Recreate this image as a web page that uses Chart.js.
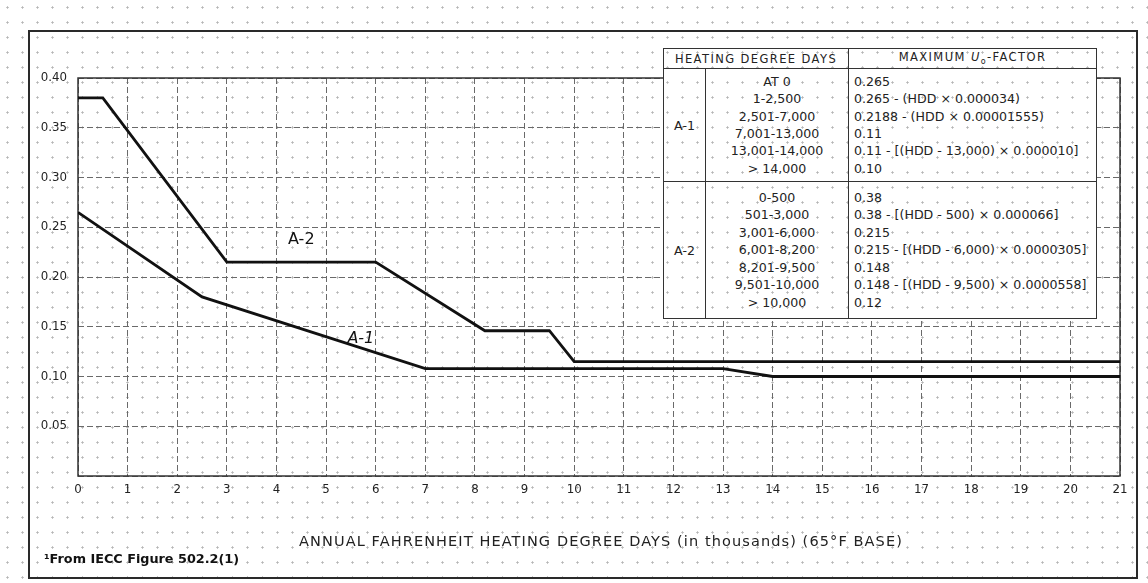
<!DOCTYPE html>
<html>
<head>
<meta charset="utf-8">
<script src="https://cdn.jsdelivr.net/npm/chart.js@4/dist/chart.umd.min.js"></script>
<style>
html, body { margin: 0; padding: 0; }
body {
    width: 1148px; height: 583px; position: relative; overflow: hidden;
    background-color: #fff;
    background-image: radial-gradient(circle, #b5b5b5 0.9px, transparent 1.3px);
    background-size: 15px 15px;
    font-family: "DejaVu Sans", sans-serif;
    color: #222;
}
#frame {
    position: absolute; left: 28px; top: 30px; width: 1110px; height: 549px;
    border: 2px solid #2a2a2a; box-sizing: border-box;
}
#chart { position: absolute; left: 0; top: 0; }
#tbl {
    position: absolute; left: 663px; top: 48px;
    border-collapse: collapse; table-layout: fixed;
    background-color: #fff;
    background-image: radial-gradient(circle, #b5b5b5 0.9px, transparent 1.3px);
    background-size: 15px 15px; background-attachment: fixed;
    font-size: 12.6px; color: #222;
}
#tbl td { border: 1.5px solid #333; padding: 0; vertical-align: middle; white-space: nowrap; }
#tbl .hd td { height: 19px; text-align: center; font-size: 11.5px; letter-spacing: 1.4px; }
#tbl .rng { text-align: center; line-height: 17.4px; }
#tbl .fac { text-align: left; padding-left: 5px; line-height: 17.4px; }
#tbl .grp { text-align: center; }
#tbl .s1 td { height: 112px; }
#tbl .s2 td { height: 136px; }
#xtitle {
    position: absolute; left: 0; width: 1202px; top: 533px; text-align: center;
    font-size: 14.5px; letter-spacing: 1.1px; color: #222;
}
#note {
    position: absolute; left: 44px; top: 551px; font-size: 12.8px; font-weight: bold; color: #111;
}
</style>
</head>
<body>
<div id="frame"></div>
<canvas id="chart" width="1148" height="583"></canvas>
<table id="tbl">
  <colgroup><col style="width:42px"><col style="width:143px"><col style="width:248px"></colgroup>
  <tr class="hd"><td colspan="2">HEATING DEGREE DAYS</td><td>MAXIMUM <i>U</i><sub style="font-size:8px">o</sub>-FACTOR</td></tr>
  <tr class="s1">
    <td class="grp">A-1</td>
    <td class="rng">AT 0<br>1-2,500<br>2,501-7,000<br>7,001-13,000<br>13,001-14,000<br>&gt; 14,000</td>
    <td class="fac">0.265<br>0.265 - (HDD × 0.000034)<br>0.2188 - (HDD × 0.00001555)<br>0.11<br>0.11 - [(HDD - 13,000) × 0.000010]<br>0.10</td>
  </tr>
  <tr class="s2">
    <td class="grp">A-2</td>
    <td class="rng">0-500<br>501-3,000<br>3,001-6,000<br>6,001-8,200<br>8,201-9,500<br>9,501-10,000<br>&gt; 10,000</td>
    <td class="fac">0.38<br>0.38 - [(HDD - 500) × 0.000066]<br>0.215<br>0.215 - [(HDD - 6,000) × 0.0000305]<br>0.148<br>0.148 - [(HDD - 9,500) × 0.0000558]<br>0.12</td>
  </tr>
</table>
<div id="xtitle">ANNUAL FAHRENHEIT HEATING DEGREE DAYS (in thousands) (65°F BASE)</div>
<div id="note">¹From IECC Figure 502.2(1)</div>

<script>
// heating degree days (thousands) and U-factor
const hddA1 = [0, 2.5, 7, 13, 14, 21];
const uA1 = [0.265, 0.18, 0.108, 0.108, 0.10, 0.10];
const hddA2 = [0, 0.5, 3, 6, 8.2, 9.5, 10, 21];
const uA2 = [0.38, 0.38, 0.215, 0.215, 0.146, 0.146, 0.115, 0.115];

// curve labels
const curveLabels = [
    { text: 'A-2', x: 4.5, y: 0.237, italic: false },
    { text: 'A-1', x: 5.7, y: 0.138, italic: true }
];

function toPoints(xs, ys) {
    return xs.map((x, i) => ({ x: x, y: ys[i] }));
}

// frame round the plot area and the curve labels
const plotExtras = {
    id: 'plotExtras',
    beforeDatasetsDraw(chart) {
        const { ctx, chartArea: a } = chart;
        ctx.save();
        ctx.strokeStyle = '#333';
        ctx.lineWidth = 1.5;
        ctx.setLineDash([]);
        ctx.strokeRect(a.left, a.top, a.right - a.left, a.bottom - a.top);
        ctx.restore();
    },
    afterDatasetsDraw(chart) {
        const { ctx, scales } = chart;
        ctx.save();
        ctx.fillStyle = '#111';
        ctx.textAlign = 'center';
        ctx.textBaseline = 'middle';
        curveLabels.forEach(l => {
            ctx.font = (l.italic ? 'italic ' : '') + '16px "DejaVu Sans"';
            ctx.fillText(l.text, scales.x.getPixelForValue(l.x), scales.y.getPixelForValue(l.y));
        });
        ctx.restore();
    }
};

const gridColor = '#6a6a6a';
const tickFont = { family: 'DejaVu Sans', size: 11.8 };

new Chart(document.getElementById('chart'), {
    type: 'line',
    data: {
        datasets: [
            { label: 'A-2', data: toPoints(hddA2, uA2) },
            { label: 'A-1', data: toPoints(hddA1, uA1) }
        ]
    },
    options: {
        responsive: false,
        animation: false,
        layout: { padding: { top: 78, right: 28, left: 0, bottom: 0 } },
        elements: {
            line: { borderColor: '#111', borderWidth: 2.8, tension: 0 },
            point: { radius: 0 }
        },
        plugins: { legend: { display: false }, tooltip: { enabled: false } },
        scales: {
            x: {
                type: 'linear', min: 0, max: 21,
                afterFit(s) { s.height = 583 - 476; },
                ticks: { stepSize: 1, color: '#222', font: tickFont, padding: 7 },
                grid: { color: gridColor, lineWidth: 1, drawTicks: false },
                border: { display: false, dash: [6, 3] }
            },
            y: {
                min: 0, max: 0.4,
                afterFit(s) { s.width = 78; },
                ticks: {
                    stepSize: 0.05, color: '#222', font: tickFont, padding: 11,
                    callback: v => v === 0 ? '' : v.toFixed(2)
                },
                grid: { color: gridColor, lineWidth: 1, drawTicks: false },
                border: { display: false, dash: [6, 3] }
            }
        }
    },
    plugins: [plotExtras]
});
</script>
</body>
</html>
